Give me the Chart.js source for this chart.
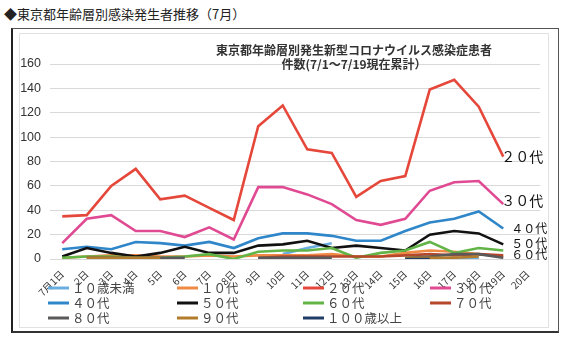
<!DOCTYPE html>
<html><head><meta charset="utf-8">
<script src="https://cdn.jsdelivr.net/npm/chart.js@4/dist/chart.umd.min.js"></script>
<style>
body{margin:0;background:#fff;width:568px;height:351px;position:relative;overflow:hidden;font-family:"Noto Sans CJK JP",sans-serif}
#pt{position:absolute;left:4px;top:4px;font-size:13px;color:#222;white-space:nowrap}
#box{position:absolute;left:11px;top:28px;width:545px;height:302px;border:1px solid #555;border-left:2px solid #222;border-bottom:2px solid #333}
#inner{position:absolute;left:19px;top:33px;width:528px;height:293px;border:1px solid #e2e2e2}
canvas{position:absolute;left:0;top:0}
</style></head><body>
<div id="pt">◆東京都年齢層別感染発生者推移（7月）</div>
<div id="box"></div><div id="inner"></div>
<canvas id="c" width="568" height="351"></canvas>
<script>
const categories = ['7月1日','2日','3日','4日','5日','6日','7日','8日','9日','10日','11日','12日','13日','14日','15日','16日','17日','18日','19日','20日'];
const yTicks = [0,20,40,60,80,100,120,140,160];
const seriesNames = ['１０歳未満','１０代','２０代','３０代','４０代','５０代','６０代','７０代','８０代','９０代','１００歳以上'];
const under10 = [null,null,null,null,null,null,null,null,null,4,9,13,null,null,null,null,0,1,null];
const teens   = [1,2,3,3,2,2,3,2,3,3,3,4,2,2,5,7,6,4,2];
const twenties= [35,36,60,74,49,52,42,32,109,126,90,87,51,64,68,139,147,125,84];
const thirties= [13,33,36,23,23,18,26,16,59,59,53,45,32,28,33,56,63,64,45];
const forties = [8,10,8,14,13,11,14,9,17,21,21,19,15,15,23,30,33,39,25];
const fifties = [2,9,5,2,5,10,5,5,11,12,15,9,11,9,7,20,23,21,12];
const sixties = [1,2,2,1,1,2,4,0,6,7,7,9,1,5,7,14,5,9,7];
const seventies=[null,null,null,null,null,null,null,null,1,2,2,2,2,2,3,4,3,4,3];
const eighties= [null,1,1,1,1,1,null,null,1,1,1,1,null,null,1,2,4,4,1];
const nineties= [null,1,1,1,1,null,null,null,null,null,null,null,null,null,1,1,1,2,null];
const over100 = [null,null,null,null,null,null,null,null,null,null,null,null,null,null,0,0,null,null,null];
const seriesValues = [under10,teens,twenties,thirties,forties,fifties,sixties,seventies,eighties,nineties,over100];
const colors = ['#6aaee0','#ef8a44','#e5483a','#e04a93','#2f86c9','#111111','#62b446','#b5472b','#5a5a5a','#b27c2c','#1f3d66'];
const endLabels = [
  {idx:2, text:'２０代', dx:-2, dy:0, size:14},
  {idx:3, text:'３０代', dx:-2, dy:-3, size:14},
  {idx:4, text:'４０代', dx:8, dy:0, size:12},
  {idx:5, text:'５０代', dx:8, dy:-1, size:12},
  {idx:6, text:'６０代', dx:8, dy:4, size:12}
];
const titleLines = ['東京都年齢層別発生新型コロナウイルス感染症患者','件数(7/1～7/19現在累計）'];

const datasets = seriesNames.map((n,i)=>({
  label:n, data:seriesValues[i], borderColor:colors[i], backgroundColor:colors[i],
  borderWidth:2.6, pointRadius:0, tension:0, spanGaps:false, order: 11-i
}));

const overlay = {
  id:'overlay',
  afterDraw(chart){
    const ctx = chart.ctx;
    ctx.save();
    ctx.fillStyle='#333'; ctx.textAlign='center'; ctx.textBaseline='middle';
    ctx.font='bold 12px "Noto Sans CJK JP"';
    ctx.fillText(titleLines[0], 354, 50);
    ctx.fillText(titleLines[1], 354, 64);
    ctx.textAlign='left'; ctx.fillStyle='#111';
    endLabels.forEach(l=>{
      const meta = chart.getDatasetMeta(l.idx);
      const pts = meta.data; let p=null;
      for(let k=pts.length-1;k>=0;k--){ if(!pts[k].skip){p=pts[k];break;} }
      if(!p) return;
      ctx.font = l.size+'px "Noto Sans CJK JP"';
      ctx.fillText(l.text, p.x+l.dx, p.y+l.dy);
    });
    const colX=[48,177,303,430], rowY=[288,303,318];
    ctx.font='12.5px "Noto Sans CJK JP"'; ctx.textBaseline='middle';
    chart.data.datasets.forEach((ds,i)=>{
      const x=colX[i%4], y=rowY[Math.floor(i/4)];
      ctx.strokeStyle=ds.borderColor; ctx.lineWidth=3;
      ctx.beginPath(); ctx.moveTo(x,y); ctx.lineTo(x+21,y); ctx.stroke();
      ctx.fillStyle='#444'; ctx.fillText(ds.label, x+24, y);
    });
    ctx.restore();
  }
};

new Chart(document.getElementById('c'),{
  type:'line',
  data:{labels:categories, datasets},
  options:{
    responsive:false, animation:false, devicePixelRatio:1,
    layout:{padding:{left:14,right:28,top:64,bottom:0}},
    plugins:{legend:{display:false}, title:{display:false}, tooltip:{enabled:false}},
    scales:{
      x:{offset:true, grid:{display:false, drawTicks:false}, border:{display:false},
         ticks:{color:'#333', font:{size:10, family:'"Noto Sans CJK JP"'}, maxRotation:45, minRotation:45, padding:9, autoSkip:false},
         afterFit(s){ s.height=92; }},
      y:{min:0,max:160, afterBuildTicks(s){ s.ticks = yTicks.map(v=>({value:v})); },
         grid:{color:'#d9d9d9', drawTicks:false}, border:{display:false},
         ticks:{color:'#333', font:{size:12.5, family:'"Liberation Sans"'}, padding:9},
         afterFit(s){ s.width=36; }}
    }
  },
  plugins:[overlay]
});
</script></body></html>
